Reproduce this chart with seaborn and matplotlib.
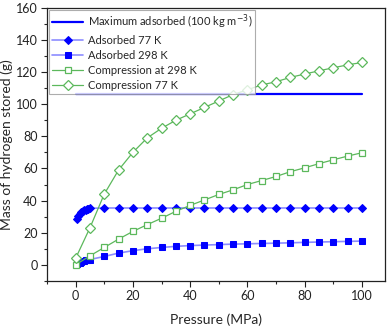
import numpy as np
import matplotlib
matplotlib.use("Agg")
import matplotlib.pyplot as plt
from matplotlib.ticker import MultipleLocator
import seaborn as sns

sns.set_style("ticks")
plt.rcParams['font.family'] = ['Lato', 'DejaVu Sans']

# data
max_x = [0, 100]
max_y = [106.5, 106.5]

ads77_x = [0.5, 1, 1.5, 2, 2.5, 3, 3.5, 4, 4.5, 5, 10, 15, 20, 25, 30, 35, 40, 45,
           50, 55, 60, 65, 70, 75, 80, 85, 90, 95, 100]
ads77_y = [28.5, 30.5, 31.8, 32.8, 33.5, 34.0, 34.4, 34.7, 35.0, 35.2, 35.4, 35.4,
           35.4, 35.4, 35.4, 35.4, 35.4, 35.4, 35.4, 35.4, 35.4, 35.4, 35.4, 35.4,
           35.4, 35.4, 35.4, 35.4, 35.4]

ads298_x = [0.5, 1, 1.5, 2, 2.5, 3, 3.5, 4, 4.5, 5, 10, 15, 20, 25, 30, 35, 40, 45,
            50, 55, 60, 65, 70, 75, 80, 85, 90, 95, 100]
ads298_y = [0.5, 1.0, 1.4, 1.8, 2.1, 2.4, 2.7, 2.9, 3.1, 3.3, 5.2, 7.3, 8.8, 10.0,
            10.8, 11.5, 12.0, 12.3, 12.6, 12.9, 13.1, 13.3, 13.5, 13.7, 14.0, 14.2,
            14.4, 14.6, 14.8]

comp_x = [0, 5, 10, 15, 20, 25, 30, 35, 40, 45, 50, 55, 60, 65, 70, 75, 80, 85,
          90, 95, 100]
comp298_y = [0, 5.6, 10.8, 16.0, 20.8, 25.0, 29.0, 33.3, 37.0, 40.4, 43.8, 46.7,
             50.0, 52.5, 55.0, 58.0, 60.4, 63.0, 65.4, 67.7, 69.8]
comp77_y = [4, 23, 44, 59, 70, 79, 85, 90, 94, 98, 102, 106, 109, 112, 114, 116.7,
            118.8, 120.8, 122.7, 124.5, 126]

blue = "#0000ff"
lightblue = "#8c8cff"
green = "#5cb85c"

fig = plt.figure(figsize=(3.88, 3.27), dpi=100)
ax = fig.add_axes([0.121, 0.141, 0.871, 0.835])

sns.lineplot(x=max_x, y=max_y, color=blue, lw=1.6, ax=ax,
             label="Maximum adsorbed (100 kg m$^{-3}$)")
sns.lineplot(x=ads77_x, y=ads77_y, color=lightblue, lw=1.2, marker="D", ms=4.5,
             markerfacecolor=blue, markeredgecolor=blue, ax=ax, label="Adsorbed 77 K")
sns.lineplot(x=ads298_x, y=ads298_y, color=lightblue, lw=1.2, marker="s", ms=4.5,
             markerfacecolor=blue, markeredgecolor=blue, ax=ax, label="Adsorbed 298 K")
sns.lineplot(x=comp_x, y=comp298_y, color=green, lw=0.9, marker="s", ms=5,
             markerfacecolor="white", markeredgecolor=green, markeredgewidth=0.9,
             ax=ax, label="Compression at 298 K")
sns.lineplot(x=comp_x, y=comp77_y, color=green, lw=0.9, marker="D", ms=5,
             markerfacecolor="white", markeredgecolor=green, markeredgewidth=0.9,
             ax=ax, label="Compression 77 K")

ax.set_xlim(-10, 108)
ax.set_ylim(-10, 160)
ax.xaxis.set_major_locator(MultipleLocator(20))
ax.xaxis.set_minor_locator(MultipleLocator(10))
ax.yaxis.set_major_locator(MultipleLocator(20))
ax.yaxis.set_minor_locator(MultipleLocator(10))
ax.tick_params(which="major", direction="out", length=4, width=0.8, labelsize=9,
               colors="#222222", pad=2.5)
ax.tick_params(which="minor", direction="out", length=2.5, width=0.8)
for s in ax.spines.values():
    s.set_color("#222222")
    s.set_linewidth(0.9)

ax.set_xlabel("Pressure (MPa)", fontsize=10, labelpad=8)
ax.set_ylabel("Mass of hydrogen stored (g)", fontsize=10, labelpad=2)

leg = ax.legend(loc="upper left", fontsize=8, handlelength=2.8, frameon=True,
                fancybox=False, edgecolor="#999999", borderaxespad=0.15,
                labelspacing=0.35, borderpad=0.3, handletextpad=0.4)
leg.get_frame().set_linewidth(0.8)

fig.savefig("out.png", dpi=100)
